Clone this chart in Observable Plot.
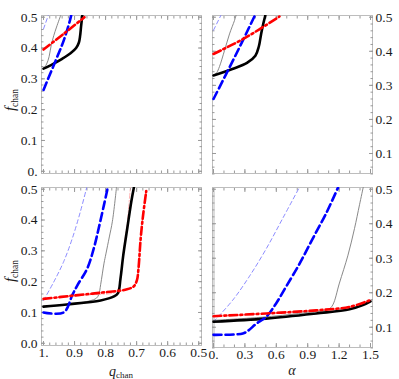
<!DOCTYPE html>
<html><head><meta charset="utf-8">
<script src="https://cdn.jsdelivr.net/npm/d3@7"></script>
<script src="https://cdn.jsdelivr.net/npm/@observablehq/plot@0.6"></script>
<style>
html,body{margin:0;padding:0;background:#fff}
#chart{position:relative;width:399px;height:379px}
#chart svg{position:absolute;left:0;top:0}
</style></head><body><div id="chart"></div>
<script>
// ---------- tick values and labels ----------
const qTicks = [1.0, 0.9, 0.8, 0.7, 0.6, 0.5];
const qTickLabels = ["1.", "0.9", "0.8", "0.7", "0.6", "0.5"];
const aTicks = [0, 0.3, 0.6, 0.9, 1.2, 1.5];
const aTickLabels = ["0.", "0.3", "0.6", "0.9", "1.2", "1.5"];
const fTicksLeft = [0, 0.1, 0.2, 0.3, 0.4, 0.5];
const fTickLabelsTop = ["0.", "0.1", "0.2", "0.3", "0.4", "0.5"];
const fTickLabelsBottom = ["0.0", "0.1", "0.2", "0.3", "0.4", "0.5"];
const fTicksRight = [0.1, 0.2, 0.3, 0.4, 0.5];
const fTickLabelsRight = ["0.1", "0.2", "0.3", "0.4", "0.5"];

// ---------- series: [x, f_chan] ----------
// top-left (x = q_chan)
const tlBlackThick = [[1.0,0.333],[0.97,0.348],[0.94,0.365],[0.913,0.383],[0.895,0.4],[0.886,0.418],[0.882,0.44],[0.879,0.47],[0.875,0.505]];
const tlBlackThin  = [[1.0,0.333],[0.99,0.348],[0.982,0.372],[0.975,0.41],[0.967,0.44],[0.958,0.468],[0.945,0.505]];
const tlBlueThick  = [[1.0,0.264],[0.961,0.359],[0.935,0.424],[0.915,0.489],[0.911,0.505]];
const tlBlueThin   = [[1.0,0.462],[0.985,0.505]];
const tlRedThick   = [[1.0,0.395],[0.935,0.446],[0.868,0.5]];
// top-right (x = alpha)
const trBlackThick = [[0,0.329],[0.18,0.348],[0.32,0.366],[0.4,0.387],[0.433,0.414],[0.455,0.451],[0.475,0.48],[0.495,0.505]];
const trBlackThin  = [[0,0.329],[0.03,0.337],[0.057,0.355],[0.105,0.402],[0.153,0.451],[0.2,0.49],[0.215,0.505]];
const trBlueThick  = [[0,0.26],[0.217,0.392],[0.395,0.505]];
const trBlueThin   = [[0,0.462],[0.07,0.505]];
const trRedThick   = [[0,0.392],[0.306,0.44],[0.63,0.502]];
// bottom-left (x = q_chan)
const blBlackThick = [[1.0,0.119],[0.925,0.126],[0.816,0.139],[0.773,0.152],[0.76,0.163],[0.752,0.21],[0.743,0.286],[0.73,0.374],[0.717,0.461],[0.709,0.505]];
const blBlackThin  = [[1.0,0.119],[0.9,0.129],[0.85,0.138],[0.83,0.146],[0.822,0.158],[0.816,0.19],[0.805,0.26],[0.799,0.29],[0.788,0.345],[0.778,0.396],[0.765,0.505]];
const blBlueThick  = [[1.0,0.1],[0.935,0.1],[0.907,0.157],[0.891,0.188],[0.859,0.243],[0.838,0.308],[0.822,0.374],[0.805,0.45],[0.793,0.505]];
const blBlueThin   = [[1.0,0.139],[0.967,0.199],[0.935,0.265],[0.907,0.341],[0.881,0.428],[0.861,0.505]];
const blRedThick   = [[1.0,0.144],[0.902,0.155],[0.816,0.164],[0.731,0.175],[0.709,0.185],[0.699,0.205],[0.694,0.243],[0.687,0.34],[0.679,0.417],[0.669,0.494]];
const blRedThin    = [[1.0,0.144],[0.85,0.157],[0.77,0.165],[0.758,0.18],[0.752,0.215],[0.744,0.285],[0.736,0.35],[0.73,0.39],[0.725,0.45],[0.72,0.505]];
// bottom-right (x = alpha)
const brBlackThick = [[0,0.116],[0.503,0.125],[0.981,0.14],[1.3,0.152],[1.427,0.164],[1.5,0.175]];
const brBlackThin  = [[0,0.12],[0.5,0.13],[0.9,0.143],[1.1,0.152],[1.14,0.165],[1.203,0.228],[1.283,0.307],[1.347,0.386],[1.395,0.455],[1.43,0.505]];
const brBlueThick  = [[0,0.078],[0.28,0.082],[0.33,0.09],[0.408,0.11],[0.503,0.13],[0.598,0.169],[0.694,0.218],[0.82,0.283],[0.948,0.357],[1.076,0.43],[1.19,0.505]];
const brBlueThin   = [[0,0.116],[0.185,0.179],[0.344,0.248],[0.503,0.327],[0.662,0.416],[0.82,0.505]];
const brRedThick   = [[0,0.132],[0.503,0.14],[0.981,0.149],[1.3,0.159],[1.5,0.179]];

// ---------- styles ----------
const ST = {
  blackThick: {stroke: "#000", strokeWidth: 2.6},
  blackThin:  {stroke: "#7a7a7a", strokeWidth: 0.9},
  blueThick:  {stroke: "#0000ff", strokeWidth: 2.6, strokeDasharray: "8,4"},
  blueThin:   {stroke: "#7f7fff", strokeWidth: 0.9, strokeDasharray: "4,3"},
  redThick:   {stroke: "#ff0000", strokeWidth: 2.6, strokeDasharray: "8,3,2,3"},
  redThin:    {stroke: "#ffaaaa", strokeWidth: 0.9, strokeDasharray: "5,2,1.5,2"}
};
const FONT = '"Liberation Serif","Times New Roman",serif';
const FRAME = "#bdbdbd", TICK = "#9a9a9a", TXT = "#1a1a1a";
const W = 399, H = 379;
const qDomain = [1.0065, 0.491], aDomain = [-0.0096, 1.519];
const fDomainL = [-0.0072, 0.5055], fDomainR = [0.0413, 0.505];
const qMinor = d3.range(50, 101, 2).map(v => v / 100);
const aMinor = d3.range(0, 16, 1).map(v => v / 10);
const fMinorL = d3.range(0, 51, 2).map(v => v / 100);
const fMinorR = d3.range(4, 51, 2).map(v => v / 100);

function lab(ticks, labels) {
  return d => labels[ticks.findIndex(t => Math.abs(t - d) < 1e-9)];
}

function makePanel(cfg) {
  const marks = [];
  if (cfg.zeroRule) marks.push(Plot.ruleX([0], {stroke: "#dcdcdc", strokeWidth: 3}));
  marks.push(Plot.frame({stroke: FRAME, strokeWidth: 1}));
  for (const anchor of ["bottom", "top"]) {
    marks.push(Plot.axisX({anchor, ticks: cfg.xTicks, tickSize: -4, tickFormat: () => "", stroke: TICK, label: null}));
    marks.push(Plot.axisX({anchor, ticks: cfg.xMinor, tickSize: -2.5, tickFormat: () => "", stroke: TICK, label: null}));
  }
  for (const anchor of ["left", "right"]) {
    marks.push(Plot.axisY({anchor, ticks: cfg.yTicks, tickSize: -4, tickFormat: () => "", stroke: TICK, label: null}));
    marks.push(Plot.axisY({anchor, ticks: cfg.yMinor, tickSize: -2.5, tickFormat: () => "", stroke: TICK, label: null}));
  }
  if (cfg.xLabels) marks.push(Plot.axisX({anchor: "bottom", ticks: cfg.xTicks, tickSize: 0, tickPadding: 2, tickFormat: lab(cfg.xTicks, cfg.xLabels), fill: TXT, label: null}));
  marks.push(Plot.axisY({anchor: cfg.yAnchor, ticks: cfg.yTicks, tickSize: 0, tickPadding: cfg.yAnchor === "left" ? 4 : 3, tickFormat: lab(cfg.yTicks, cfg.yLabels), fill: TXT, label: null}));
  for (const s of cfg.series) {
    marks.push(Plot.line(s[0], {x: d => d[0], y: d => d[1], curve: "catmull-rom", clip: true, ...s[1]}));
  }
  return Plot.plot({
    width: W, height: H,
    marginLeft: cfg.m[0], marginRight: cfg.m[1], marginTop: cfg.m[2], marginBottom: cfg.m[3],
    x: {domain: cfg.xDomain},
    y: {domain: cfg.yDomain},
    style: {fontFamily: FONT, fontSize: "13.5px", background: "transparent", overflow: "visible", color: TXT},
    marks
  });
}

const chart = document.getElementById("chart");
const tl = makePanel({m: [41, 198, 15, 206], xDomain: qDomain, yDomain: fDomainL, xTicks: qTicks, xMinor: qMinor,
  yTicks: fTicksLeft, yMinor: fMinorL, yAnchor: "left", yLabels: fTickLabelsTop,
  series: [[tlBlueThin, ST.blueThin], [tlBlackThin, ST.blackThin], [tlBlackThick, ST.blackThick], [tlBlueThick, ST.blueThick], [tlRedThick, ST.redThick]]});
const tr = makePanel({m: [212, 27, 15, 206], xDomain: aDomain, yDomain: fDomainR, xTicks: aTicks, xMinor: aMinor,
  yTicks: fTicksRight, yMinor: fMinorR, yAnchor: "right", yLabels: fTickLabelsRight,
  series: [[trBlueThin, ST.blueThin], [trBlackThin, ST.blackThin], [trBlackThick, ST.blackThick], [trBlueThick, ST.blueThick], [trRedThick, ST.redThick]]});
const bl = makePanel({m: [41, 198, 187, 34], xDomain: qDomain, yDomain: fDomainL, xTicks: qTicks, xMinor: qMinor, xLabels: qTickLabels,
  yTicks: fTicksLeft, yMinor: fMinorL, yAnchor: "left", yLabels: fTickLabelsBottom,
  series: [[blBlueThin, ST.blueThin], [blBlackThin, ST.blackThin], [blRedThin, ST.redThin], [blBlackThick, ST.blackThick], [blBlueThick, ST.blueThick], [blRedThick, ST.redThick]]});
const br = makePanel({m: [212, 27, 187, 32], xDomain: aDomain, yDomain: fDomainR, xTicks: aTicks, xMinor: aMinor, xLabels: aTickLabels,
  yTicks: fTicksRight, yMinor: fMinorR, yAnchor: "right", yLabels: fTickLabelsRight, zeroRule: true,
  series: [[brBlueThin, ST.blueThin], [brBlackThin, ST.blackThin], [brBlackThick, ST.blackThick], [brBlueThick, ST.blueThick], [brRedThick, ST.redThick]]});
[tl, tr, bl, br].forEach(s => chart.appendChild(s));

// axis titles
function fLabel(svg, cy) {
  const t = d3.select(svg).append("text")
    .attr("transform", `translate(15,${cy}) rotate(-90)`)
    .attr("text-anchor", "middle").attr("fill", TXT)
    .style("font-family", FONT);
  t.append("tspan").attr("font-style", "italic").attr("font-size", 15).text("f");
  t.append("tspan").attr("font-size", 9.5).attr("dy", 3).text("chan");
}
fLabel(tl, 100);
fLabel(bl, 271);
{
  const t = d3.select(bl).append("text").attr("x", 121).attr("y", 375.5)
    .attr("text-anchor", "middle").attr("fill", TXT).style("font-family", FONT);
  t.append("tspan").attr("font-style", "italic").attr("font-size", 14).text("q");
  t.append("tspan").attr("font-size", 9).attr("dy", 2).text("chan");
}
d3.select(br).append("text").attr("x", 292).attr("y", 375)
  .attr("text-anchor", "middle").attr("fill", TXT).attr("font-style", "italic").attr("font-size", 14)
  .style("font-family", FONT).text("α");
</script></body></html>
